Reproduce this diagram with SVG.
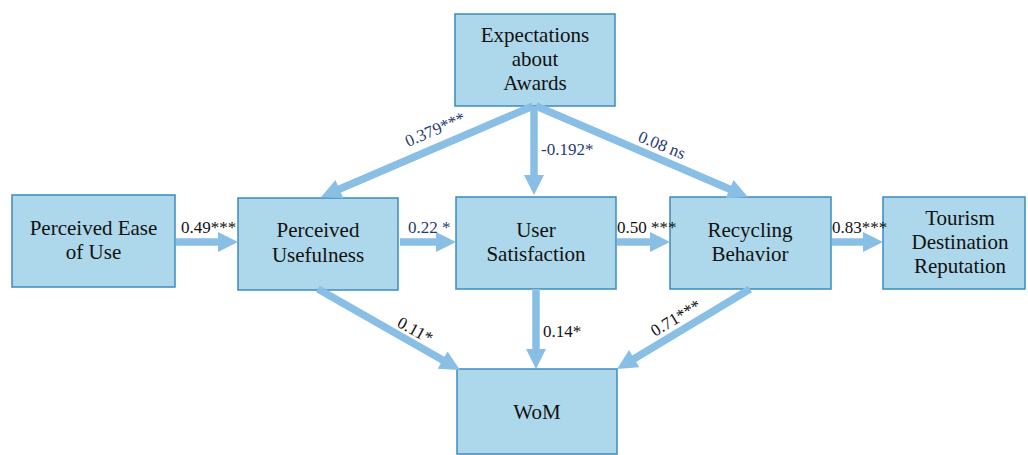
<svg xmlns="http://www.w3.org/2000/svg" width="1028" height="455" viewBox="0 0 1028 455">
<style>
.box{fill:#add7ea;stroke:#3d8bbf;stroke-width:1.5}
.t{font-family:"Liberation Serif","Times New Roman",serif;font-size:21px;fill:#111;text-anchor:middle}
.lab{font-family:"Liberation Serif","Times New Roman",serif;font-size:17px;fill:#111}
.blue{fill:#1f3b73}
.arr{stroke:#89bfe5;stroke-width:7.5;fill:none;marker-end:url(#ah)}
</style>
<defs>
<marker id="ah" markerUnits="userSpaceOnUse" markerWidth="22" markerHeight="22" refX="1" refY="11" orient="auto" overflow="visible">
<path d="M0,1 L20,11 L0,21 z" fill="#89bfe5"/>
</marker>
</defs>
<rect width="1028" height="455" fill="#fff"/>
<g id="peou"><rect class="box" x="12" y="195" width="163" height="92"/><text class="t" x="93.5" y="235">Perceived Ease</text><text class="t" x="93.5" y="259">of Use</text></g>
<g id="pu"><rect class="box" x="238" y="198" width="160" height="92"/><text class="t" x="318" y="237">Perceived</text><text class="t" x="318" y="262">Usefulness</text></g>
<g id="us"><rect class="box" x="456" y="197" width="160" height="92"/><text class="t" x="536" y="237">User</text><text class="t" x="536" y="261">Satisfaction</text></g>
<g id="exp"><rect class="box" x="455" y="14" width="160" height="92"/><text class="t" x="535" y="42">Expectations</text><text class="t" x="535" y="66">about</text><text class="t" x="535" y="90">Awards</text></g>
<g id="rb"><rect class="box" x="670" y="197" width="161" height="92"/><text class="t" x="750" y="237">Recycling</text><text class="t" x="750" y="261">Behavior</text></g>
<g id="tdr"><rect class="box" x="883" y="197" width="142" height="92"/><text class="t" x="960" y="225">Tourism</text><text class="t" x="960" y="249">Destination</text><text class="t" x="960" y="273">Reputation</text></g>
<g id="wom"><rect class="box" x="457" y="369" width="160" height="85"/><text class="t" x="537" y="419">WoM</text></g>
<g id="connectors">
<line class="arr" x1="176" y1="242" x2="219" y2="242"/>
<line class="arr" x1="400" y1="242" x2="437" y2="242"/>
<line class="arr" x1="617" y1="242" x2="651" y2="242"/>
<line class="arr" x1="832" y1="242" x2="864" y2="242"/>
<line class="arr" x1="533" y1="106" x2="338.5" y2="189.5"/>
<line class="arr" x1="534" y1="106" x2="534" y2="176"/>
<line class="arr" x1="536" y1="106" x2="730.5" y2="189.5"/>
<line class="arr" x1="318" y1="289" x2="443.5" y2="360.6"/>
<line class="arr" x1="536" y1="289" x2="536" y2="350"/>
<line class="arr" x1="750" y1="289" x2="633.3" y2="359.2"/>
</g>
<g id="labels">
<text class="lab" x="181" y="233">0.49***</text>
<text class="lab blue" x="408" y="233">0.22 *</text>
<text class="lab" x="617" y="233">0.50 ***</text>
<text class="lab" x="832" y="233">0.83***</text>
<text class="lab blue" transform="translate(408,147) rotate(-23)">0.379***</text>
<text class="lab blue" x="541" y="155">-0.192*</text>
<text class="lab blue" transform="translate(637,141) rotate(22)">0.08 ns</text>
<text class="lab" transform="translate(396,326) rotate(29)">0.11*</text>
<text class="lab" x="543" y="337">0.14*</text>
<text class="lab" transform="translate(655,337) rotate(-31)">0.71***</text>
</g>
</svg>
